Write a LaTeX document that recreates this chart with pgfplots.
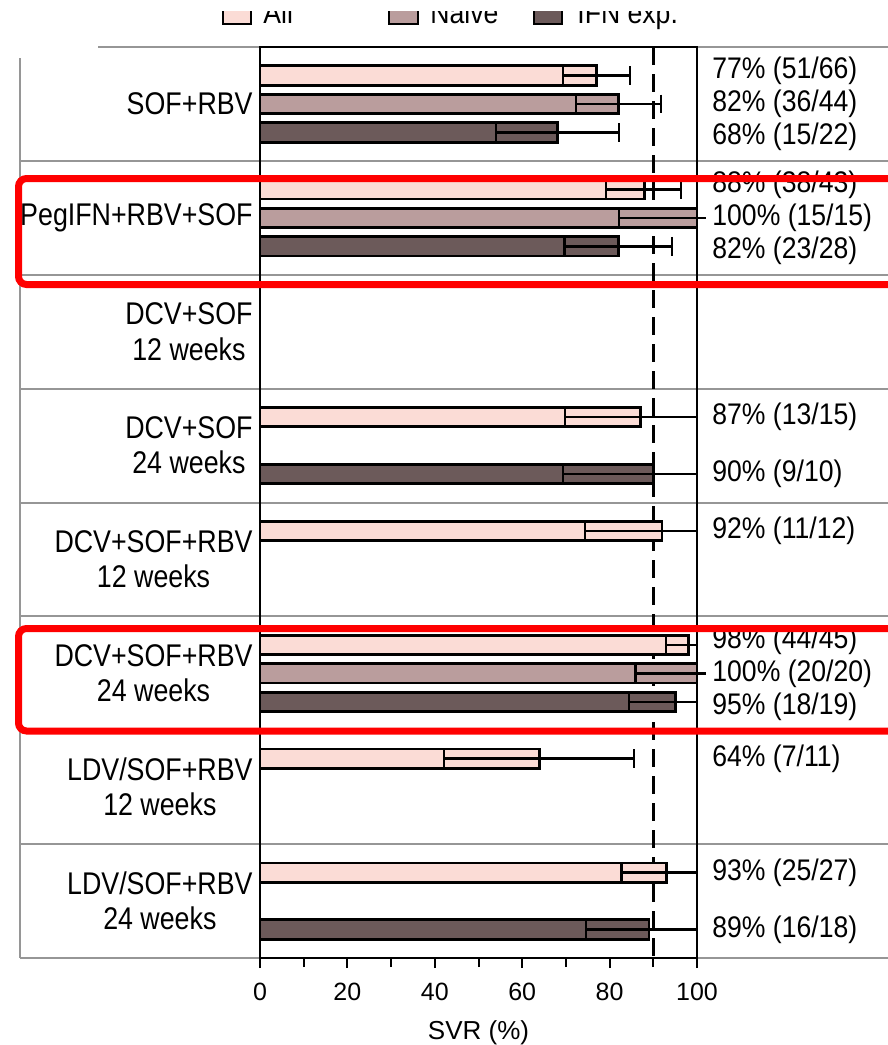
\documentclass[border=0pt]{standalone}
\usepackage{fontspec}
\setmainfont{Liberation Sans}
\usepackage{pgfplots}
\pgfplotsset{compat=1.18}
\usepackage{pgfplotstable}
\definecolor{cAll}{RGB}{251,220,214}
\definecolor{cNaive}{RGB}{186,157,157}
\definecolor{cIFN}{RGB}{108,90,90}
\definecolor{gridgrey}{RGB}{150,150,150}
\tikzset{lab/.style={anchor=west, inner sep=0pt, xshift=7.5pt, yscale=1.12, font=\fontsize{13.3}{15}\selectfont}}
\pgfplotsset{eb/.style={error bars/.cd, x dir=both, x explicit, error mark=|,
    error bar style={line width=1.3pt, black},
    error mark options={black, line width=1.2pt, mark size=4.7pt}}}

% x = SVR (%), y = bar position, ep/em = CI plus/minus
\pgfplotstableread{
x y ep em
77 1 7.6 7.6
88 5 8.4 8.8
87 13 13 17.2
92 17 8 17.6
98 21 2 5.1
64 25 21.6 21.9
93 29 7 10.3
}\allT
\pgfplotstableread{
x y ep em
82 2 9.7 9.7
100 6 0 17.8
100 22 0 14.1
}\naiveT
\pgfplotstableread{
x y ep em
68 3 14.1 14
82 7 12.3 12.3
90 15 10 20.7
95 23 5 10.5
89 31 11 14.4
}\ifnT

\begin{document}
\begin{tikzpicture}
\path[use as bounding box] (0,0) rectangle (444pt,-522.5pt);
% table frame (grey)
\begin{scope}[x=0.5pt,y=-0.5pt,draw=gridgrey,line width=1pt]
\draw (98,47) -- (888,47);
\foreach \yy in {160.9,274.8,388.6,502.5,616.4,730.3,844.2,958}
  \draw (20,\yy) -- (888,\yy);
\draw (20,58) -- (20,958);
\end{scope}
\begin{axis}[
  at={(130pt,-479pt)}, anchor=south west,
  scale only axis, width=218.5pt, height=455.5pt,
  xmin=0, xmax=100, ymin=0, ymax=32, y dir=reverse,
  axis line style={line width=1.2pt, black},
  xtick={0,20,...,100}, minor xtick={10,30,...,90},
  tick align=outside, xtick pos=bottom,
  major tick length=5pt, minor tick length=4.5pt,
  every tick/.style={black, line width=1pt},
  ytick={2,6,...,30},
  yticklabels={SOF+RBV, PegIFN+RBV+SOF, {DCV+SOF\\12 weeks}, {DCV+SOF\\24 weeks},
    {DCV+SOF+RBV\\12 weeks}, {DCV+SOF+RBV\\24 weeks}, {LDV/SOF+RBV\\12 weeks}, {LDV/SOF+RBV\\24 weeks}},
  ytick style={draw=none},
  yticklabel style={align=center, font=\fontsize{13.4}{15}\selectfont, yscale=1.17, inner sep=0pt, xshift=1.5pt},
  xticklabel style={font=\fontsize{12.5}{15}\selectfont, yshift=-4pt},
  /pgf/number format/assume math mode=true,
  xlabel={SVR (\%)},
  xlabel style={font=\fontsize{13}{15}\selectfont, yshift=-3pt},
  clip=false,
]
\addplot[black, line width=1.2pt, dash pattern=on 9pt off 4.5pt] coordinates {(90,0) (90,32)};
\addplot[xbar, bar shift=0pt, bar width=0.68, fill=cAll, draw=black, line width=1.4pt, eb]
  table[x=x, y=y, x error plus=ep, x error minus=em] {\allT};
\addplot[xbar, bar shift=0pt, bar width=0.68, fill=cNaive, draw=black, line width=1.4pt, eb]
  table[x=x, y=y, x error plus=ep, x error minus=em] {\naiveT};
\addplot[xbar, bar shift=0pt, bar width=0.68, fill=cIFN, draw=black, line width=1.4pt, eb]
  table[x=x, y=y, x error plus=ep, x error minus=em] {\ifnT};
\node[lab] at (axis cs:100,0.84) {77\% (51/66)};
\node[lab] at (axis cs:100,2) {82\% (36/44)};
\node[lab] at (axis cs:100,3.16) {68\% (15/22)};
\node[lab] at (axis cs:100,4.84) {88\% (38/43)};
\node[lab] at (axis cs:100,6) {100\% (15/15)};
\node[lab] at (axis cs:100,7.16) {82\% (23/28)};
\node[lab] at (axis cs:100,13) {87\% (13/15)};
\node[lab] at (axis cs:100,15) {90\% (9/10)};
\node[lab] at (axis cs:100,17) {92\% (11/12)};
\node[lab] at (axis cs:100,20.84) {98\% (44/45)};
\node[lab] at (axis cs:100,22) {100\% (20/20)};
\node[lab] at (axis cs:100,23.16) {95\% (18/19)};
\node[lab] at (axis cs:100,25) {64\% (7/11)};
\node[lab] at (axis cs:100,29) {93\% (25/27)};
\node[lab] at (axis cs:100,31) {89\% (16/18)};
\end{axis}
% legend (cut at the top) and highlight boxes
\begin{scope}[x=0.5pt,y=-0.5pt]
\draw[fill=cAll, line width=1.2pt] (223,-5) rectangle (251,24);
\node[anchor=base west, inner sep=0pt, font=\fontsize{13.3}{15}\selectfont, yscale=1.12] at (263,23) {All};
\draw[fill=cNaive, line width=1.2pt] (389,-5) rectangle (418,24);
\node[anchor=base west, inner sep=0pt, font=\fontsize{13.3}{15}\selectfont, yscale=1.12] at (430,23) {Naive};
\draw[fill=cIFN, line width=1.2pt] (534,-5) rectangle (562,24);
\node[anchor=base west, inner sep=0pt, font=\fontsize{13.3}{15}\selectfont, yscale=1.12] at (577,23) {IFN exp.};
\fill[white] (-5,-5) rectangle (893,11);
\draw[red, line width=3.5pt, rounded corners=4pt] (18.5,178.5) rectangle (905,284.5);
\draw[red, line width=3.5pt, rounded corners=4pt] (18.5,628.5) rectangle (905,731);
\end{scope}
\end{tikzpicture}
\end{document}
